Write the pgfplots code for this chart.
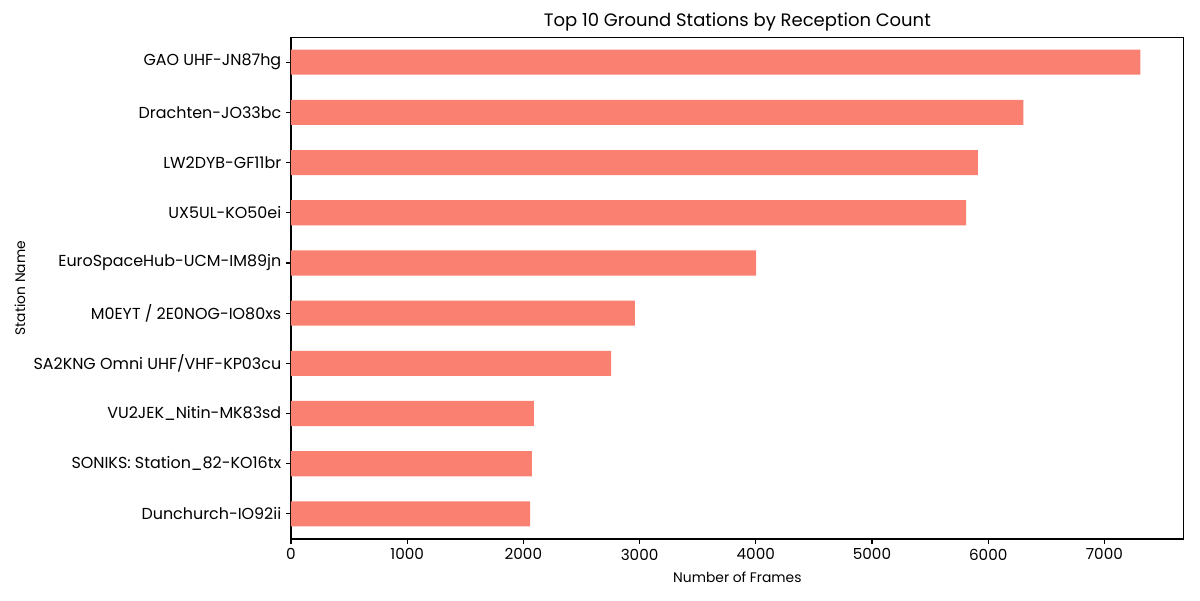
\documentclass[border=0pt]{standalone}
\usepackage{fontspec}
\setmainfont{Poppins}
\usepackage{pgfplots}
\pgfplotsset{compat=1.18}
\definecolor{salmon}{HTML}{FA8072}
\begin{document}
\begin{tikzpicture}[x=1bp,y=1bp]
\path[use as bounding box] (0,0) rectangle (864,432);
\begin{axis}[
  at={(209.5bp,43.9bp)}, anchor=south west,
  width=642.8bp, height=361.4bp, scale only axis,
  xbar, bar width=0.5,
  xmin=0, xmax=7683,
  ymin=-0.5, ymax=9.5, y dir=reverse,
  ytick={0,...,9},
  yticklabels={GAO UHF-JN87hg, Drachten-JO33bc, LW2DYB-GF11br, UX5UL-KO50ei, EuroSpaceHub-UCM-IM89jn, M0EYT / 2E0NOG-IO80xs, SA2KNG Omni UHF/VHF-KP03cu, VU2JEK\_Nitin-MK83sd, SONIKS: Station\_82-KO16tx, Dunchurch-IO92ii},
  xtick={0,1000,...,7000},
  scaled x ticks=false,
  /pgf/number format/assume math mode=true,
  xticklabel style={/pgf/number format/1000 sep={}, font=\fontsize{11}{13}\selectfont},
  yticklabel style={font=\fontsize{11.5}{13}\selectfont},
  tick align=outside, tick pos=left,
  major tick length=3.5bp,
  tick style={line width=0.8bp, black},
  axis line style={line width=0.8bp},
  xlabel={Number of Frames},
  ylabel={Station Name},
  label style={font=\fontsize{10}{12}\selectfont},
  xlabel style={at={(axis description cs:0.5,-0.0755)}, anchor=center},
  ylabel style={at={(axis description cs:-0.3035,0.5)}, anchor=center},
  title={Top 10 Ground Stations by Reception Count},
  title style={at={(axis description cs:0.5,1.0137)}, anchor=center, font=\fontsize{13}{15}\selectfont},
]
\addplot[draw=none, fill=salmon] coordinates {
  (7310,0) (6303,1) (5912,2) (5809,3) (4002,4)
  (2960,5) (2754,6) (2091,7) (2074,8) (2057,9)
};
\end{axis}
\end{tikzpicture}
\end{document}
